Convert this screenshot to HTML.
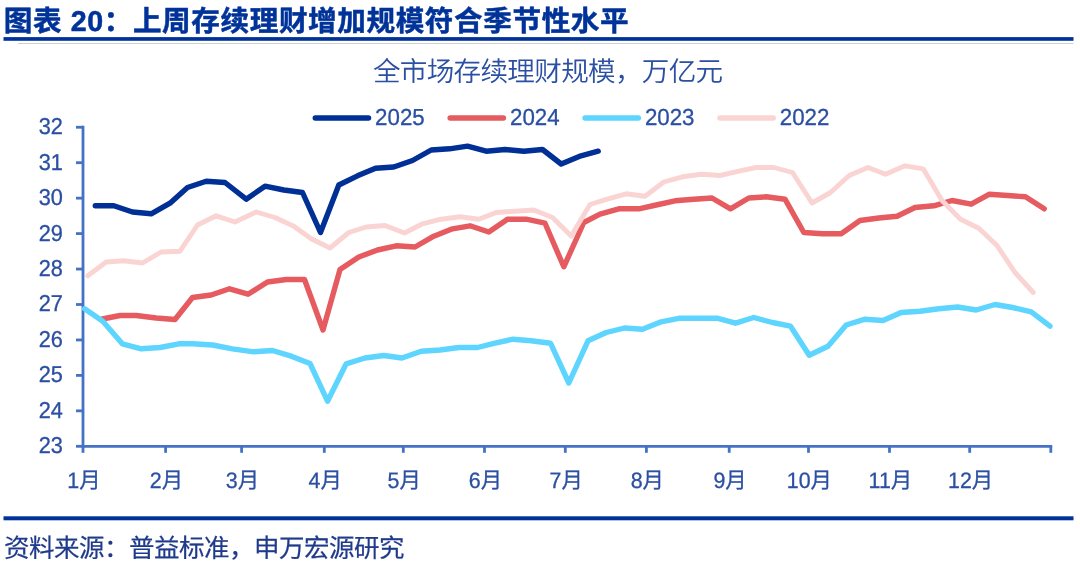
<!DOCTYPE html>
<html lang="zh-CN">
<head>
<meta charset="utf-8">
<title>图表 20：上周存续理财增加规模符合季节性水平</title>
<style>
html,body{margin:0;padding:0;background:#fff;}
body{width:1080px;height:564px;overflow:hidden;position:relative;font-family:"Liberation Sans","Noto Sans CJK SC",sans-serif;}
svg text{font-family:"Liberation Sans","Noto Sans CJK SC",sans-serif;text-rendering:geometricPrecision;}
.num{font-size:22.3px;stroke:#2b4fa2;stroke-width:0.3px;}
.xl{font-size:22.3px;stroke:#2b4fa2;stroke-width:0.3px;}
.sub{letter-spacing:-0.7px;font-size:27.6px;font-weight:350;stroke:#2b4fa2;stroke-width:0.0px;}
.title{font-size:28.6px;font-weight:700;stroke:#003399;stroke-width:0.5px;stroke-linejoin:round;letter-spacing:0.6px;}
.src{letter-spacing:-0.5px;font-size:25.5px;font-weight:400;stroke:#1f3a8a;stroke-width:0.2px;}
</style>
</head>
<body>
<svg width="1080" height="564" viewBox="0 0 1080 564" style="position:absolute;left:0;top:0">
<rect x="3.5" y="37.1" width="1070.0" height="3.7" fill="#003399"/>
<rect x="18" y="43" width="1055.5" height="1" fill="#d0d0d0"/>
<rect x="3.5" y="516.3" width="1070.0" height="4" fill="#003399"/>
<g stroke="#4472c4" stroke-width="2.8" fill="none">
<line x1="83" y1="125.85" x2="83" y2="447.7"/>
<line x1="81.6" y1="446.3" x2="1052.2" y2="446.3"/>
<line x1="76" y1="446.30" x2="83" y2="446.30"/>
<line x1="76" y1="410.85" x2="83" y2="410.85"/>
<line x1="76" y1="375.40" x2="83" y2="375.40"/>
<line x1="76" y1="339.95" x2="83" y2="339.95"/>
<line x1="76" y1="304.50" x2="83" y2="304.50"/>
<line x1="76" y1="269.05" x2="83" y2="269.05"/>
<line x1="76" y1="233.60" x2="83" y2="233.60"/>
<line x1="76" y1="198.15" x2="83" y2="198.15"/>
<line x1="76" y1="162.70" x2="83" y2="162.70"/>
<line x1="76" y1="127.25" x2="83" y2="127.25"/>
<line x1="83" y1="446.3" x2="83" y2="452.8"/>
<line x1="165.6" y1="446.3" x2="165.6" y2="452.8"/>
<line x1="241.6" y1="446.3" x2="241.6" y2="452.8"/>
<line x1="324.3" y1="446.3" x2="324.3" y2="452.8"/>
<line x1="403.3" y1="446.3" x2="403.3" y2="452.8"/>
<line x1="484.5" y1="446.3" x2="484.5" y2="452.8"/>
<line x1="565.3" y1="446.3" x2="565.3" y2="452.8"/>
<line x1="646.4" y1="446.3" x2="646.4" y2="452.8"/>
<line x1="729.2" y1="446.3" x2="729.2" y2="452.8"/>
<line x1="808.5" y1="446.3" x2="808.5" y2="452.8"/>
<line x1="889.5" y1="446.3" x2="889.5" y2="452.8"/>
<line x1="969.7" y1="446.3" x2="969.7" y2="452.8"/>
<line x1="1050.8" y1="446.3" x2="1050.8" y2="452.8"/>
</g>
<polyline points="95.3,205.8 113.8,205.8 132.5,212.0 151.2,213.8 170.0,203.2 187.5,187.5 206.2,181.2 225.0,182.5 246.2,199.2 265.0,186.2 283.8,190.0 302.5,192.5 320.5,232.5 338.8,185.0 357.5,175.8 375.5,168.2 393.8,167.0 412.5,160.5 431.2,150.0 449.5,148.8 467.5,146.2 486.2,151.2 505.0,149.5 523.8,151.2 542.5,149.5 561.2,164.0 581.0,155.8 598.2,151.2" fill="none" stroke="#002f95" stroke-width="5.4" stroke-linejoin="round" stroke-linecap="round"/>
<polyline points="102.3,319.0 120.0,315.5 136.2,315.5 156.2,318.0 175.0,319.5 192.5,297.5 211.2,295.0 229.5,288.8 248.0,294.2 267.5,282.0 286.2,279.5 304.5,279.5 323.0,330.0 340.0,269.5 358.8,257.0 377.5,250.0 396.2,245.8 415.0,247.0 433.8,236.2 452.5,228.8 470.0,225.8 488.8,232.0 507.5,219.2 526.2,219.2 545.0,223.2 563.8,266.8 583.8,222.5 600.0,214.2 618.8,208.8 638.8,208.8 656.2,205.0 675.0,200.8 693.8,199.2 712.0,198.0 730.5,208.8 748.8,198.0 766.2,196.8 785.0,199.2 803.8,232.5 822.5,233.8 841.2,233.8 860.0,220.5 878.8,218.0 897.0,216.2 915.0,207.5 933.8,205.8 952.0,200.5 971.2,204.2 989.5,194.2 1007.5,195.5 1025.5,196.8 1044.2,208.8" fill="none" stroke="#e55b5f" stroke-width="5.4" stroke-linejoin="round" stroke-linecap="round"/>
<polyline points="84.6,308.8 102.8,321.2 122.3,343.8 141.2,348.8 160.0,347.5 178.8,343.8 192.5,343.8 212.5,345.0 232.5,348.8 253.8,351.8 272.5,350.5 291.2,356.2 310.0,363.5 327.5,401.2 346.2,363.8 365.0,358.0 383.8,355.5 402.0,358.0 421.2,351.2 440.0,350.0 458.8,347.5 477.5,347.5 495.0,343.2 513.0,339.2 531.2,340.8 550.5,343.2 568.8,383.0 588.0,340.8 606.2,332.5 624.5,328.0 642.5,329.2 661.2,321.8 680.0,318.2 698.8,318.2 717.0,318.2 735.5,323.2 753.8,317.5 772.5,322.5 790.5,326.2 809.2,355.2 828.0,346.2 846.2,325.0 865.0,319.2 883.0,320.5 901.2,312.5 920.0,311.2 938.8,308.8 957.5,307.0 976.2,310.0 995.0,304.5 1012.5,307.5 1031.2,311.8 1050.0,326.2" fill="none" stroke="#5dd5ff" stroke-width="5.4" stroke-linejoin="round" stroke-linecap="round"/>
<polyline points="87.8,275.8 106.2,262.0 123.8,260.8 142.5,263.0 161.2,252.0 180.0,251.2 197.5,225.0 216.2,215.8 235.0,222.0 256.2,212.0 275.0,217.5 293.8,226.2 311.2,238.8 330.0,248.0 348.8,232.5 366.2,227.0 385.0,225.5 404.5,233.0 422.5,223.8 441.2,219.2 460.0,216.8 478.8,219.2 496.2,212.5 515.0,211.2 533.8,210.0 552.5,217.5 571.2,236.0 590.0,204.5 608.0,198.8 626.2,193.8 645.0,196.2 663.8,182.0 682.5,176.8 701.2,174.2 720.0,175.5 738.8,171.2 756.2,167.5 773.8,167.5 792.5,172.5 812.0,203.0 830.5,192.5 849.2,175.5 868.0,167.5 885.5,174.2 905.0,165.8 923.2,168.8 942.0,200.5 960.5,219.2 978.8,228.2 997.0,245.5 1015.0,272.5 1033.2,292.5" fill="none" stroke="#fad4d3" stroke-width="4.9" stroke-linejoin="round" stroke-linecap="round"/>
<line x1="315.3" y1="118" x2="368.5" y2="118" stroke="#002f95" stroke-width="5.5" stroke-linecap="round"/>
<text transform="translate(375.10,124.90) scale(1,1.04)" class="num" fill="#2b4fa2">2025</text>
<line x1="450.2" y1="118" x2="503.4" y2="118" stroke="#e55b5f" stroke-width="5.5" stroke-linecap="round"/>
<text transform="translate(510.00,124.90) scale(1,1.04)" class="num" fill="#2b4fa2">2024</text>
<line x1="585.1" y1="118" x2="638.3" y2="118" stroke="#5dd5ff" stroke-width="5.5" stroke-linecap="round"/>
<text transform="translate(644.90,124.90) scale(1,1.04)" class="num" fill="#2b4fa2">2023</text>
<line x1="720.0" y1="118" x2="773.2" y2="118" stroke="#fad4d3" stroke-width="5.5" stroke-linecap="round"/>
<text transform="translate(779.80,124.90) scale(1,1.04)" class="num" fill="#2b4fa2">2022</text>
<text transform="translate(62.90,453.20) scale(0.975,1.03)" class="num" text-anchor="end" fill="#2b4fa2">23</text>
<text transform="translate(62.90,417.75) scale(0.975,1.03)" class="num" text-anchor="end" fill="#2b4fa2">24</text>
<text transform="translate(62.90,382.30) scale(0.975,1.03)" class="num" text-anchor="end" fill="#2b4fa2">25</text>
<text transform="translate(62.90,346.85) scale(0.975,1.03)" class="num" text-anchor="end" fill="#2b4fa2">26</text>
<text transform="translate(62.90,311.40) scale(0.975,1.03)" class="num" text-anchor="end" fill="#2b4fa2">27</text>
<text transform="translate(62.90,275.95) scale(0.975,1.03)" class="num" text-anchor="end" fill="#2b4fa2">28</text>
<text transform="translate(62.90,240.50) scale(0.975,1.03)" class="num" text-anchor="end" fill="#2b4fa2">29</text>
<text transform="translate(62.90,205.05) scale(0.975,1.03)" class="num" text-anchor="end" fill="#2b4fa2">30</text>
<text transform="translate(62.90,169.60) scale(0.975,1.03)" class="num" text-anchor="end" fill="#2b4fa2">31</text>
<text transform="translate(62.90,134.15) scale(0.975,1.03)" class="num" text-anchor="end" fill="#2b4fa2">32</text>
<text transform="translate(83.90,488.00) scale(0.96,1.0)" class="xl" text-anchor="middle" fill="#2b4fa2">1月</text>
<text transform="translate(166.50,488.00) scale(0.96,1.0)" class="xl" text-anchor="middle" fill="#2b4fa2">2月</text>
<text transform="translate(242.50,488.00) scale(0.96,1.0)" class="xl" text-anchor="middle" fill="#2b4fa2">3月</text>
<text transform="translate(325.20,488.00) scale(0.96,1.0)" class="xl" text-anchor="middle" fill="#2b4fa2">4月</text>
<text transform="translate(404.20,488.00) scale(0.96,1.0)" class="xl" text-anchor="middle" fill="#2b4fa2">5月</text>
<text transform="translate(485.40,488.00) scale(0.96,1.0)" class="xl" text-anchor="middle" fill="#2b4fa2">6月</text>
<text transform="translate(566.20,488.00) scale(0.96,1.0)" class="xl" text-anchor="middle" fill="#2b4fa2">7月</text>
<text transform="translate(647.30,488.00) scale(0.96,1.0)" class="xl" text-anchor="middle" fill="#2b4fa2">8月</text>
<text transform="translate(730.10,488.00) scale(0.96,1.0)" class="xl" text-anchor="middle" fill="#2b4fa2">9月</text>
<text transform="translate(809.40,488.00) scale(0.96,1.0)" class="xl" text-anchor="middle" fill="#2b4fa2">10月</text>
<text transform="translate(890.40,488.00) scale(0.96,1.0)" class="xl" text-anchor="middle" fill="#2b4fa2">11月</text>
<text transform="translate(970.60,488.00) scale(0.96,1.0)" class="xl" text-anchor="middle" fill="#2b4fa2">12月</text>
<text transform="translate(547.70,81.40) scale(1,0.985)" class="sub" text-anchor="middle" fill="#2b4fa2">全市场存续理财规模，万亿元</text>
<text transform="translate(3.80,30.50) scale(1.0,1)" class="title" fill="#003399">图表 20：上周存续理财增加规模符合季节性水平</text>
<text transform="translate(4.00,556.50) scale(1,1)" class="src" fill="#1f3a8a">资料来源：普益标准，申万宏源研究</text>
</svg>
</body>
</html>
